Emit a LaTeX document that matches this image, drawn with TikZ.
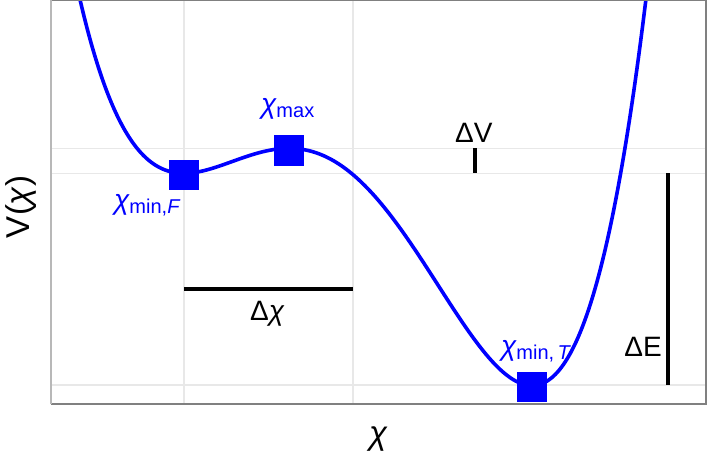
\documentclass[tikz,border=0pt]{standalone}
\usepackage{fontspec}
\setmainfont{Liberation Sans}
\newcommand{\chisym}{{\itshape χ}}
\newcommand{\subtxt}[1]{\raisebox{-4pt}{\fontsize{20}{20}\selectfont #1}}
\begin{document}
\begin{tikzpicture}[x=1pt,y=-1pt,
  gridline/.style={draw=black!9, line width=1.3pt},
  curveline/.style={draw=blue, line width=3.6pt},
  marker/.style={rectangle, fill=blue, minimum size=30pt, inner sep=0pt},
  lbl/.style={inner sep=0pt, font=\fontsize{28}{32}\selectfont},
  bluelbl/.style={lbl, text=blue},
  axtitle/.style={inner sep=0pt, font=\fontsize{33}{36}\selectfont},
  bar/.style={draw=black, line width=3.2pt}]
\useasboundingbox (0,0) rectangle (708,457);
% grid
\draw[gridline] (184,0) -- (184,404);
\draw[gridline] (353,0) -- (353,404);
\draw[gridline] (51,148.3) -- (706,148.3);
\draw[gridline] (51,173.3) -- (706,173.3);
\draw[gridline] (51,385) -- (706,385);
% curve and markers
\begin{scope}
\clip (51,0) rectangle (706,404);
\draw[curveline, line join=round] plot[domain=-1.3:4.9, samples=300, smooth]
  ({184+100*(\x)}, {173.3-43.8*((\x)*(\x))*(0.25*(\x)*(\x)-1.51*(\x)+1.827)});
\node[marker] (mF) at (184,175) {};
\node[marker] (mM) at (288.5,150.5) {};
\node[marker] (mT) at (532,387) {};
\end{scope}
% panel border
\draw[black!50, line width=1.3pt] (51,0) -- (706,0) -- (706,404) -- (51,404);
\draw[black!28, line width=1.6pt] (51,0) -- (51,404);
% labels of markers
\node[bluelbl, anchor=base west] (tM) at (261,113.5) {\chisym\subtxt{max}};
\node[bluelbl, anchor=base west] (tF) at (114,209) {\chisym\subtxt{min,\textit{F}}};
\node[bluelbl, anchor=base west] (tT) at (501,355) {\chisym\subtxt{min,\,\textit{T}}};
% measures
\coordinate (dxa) at (184,289);
\coordinate (dxb) at (353,289);
\draw[bar] (dxa) -- (dxb);
\node[lbl, anchor=base west] (tdx) at (250,320) {Δ\chisym};
\coordinate (dva) at (475,148.3);
\coordinate (dvb) at (475,173.3);
\draw[bar] (dva) -- (dvb);
\node[lbl, anchor=base west] (tdv) at (455,142.3) {ΔV};
\coordinate (dea) at (668,173.3);
\coordinate (deb) at (668,385);
\draw[bar] (dea) -- (deb);
\node[lbl, anchor=base east] (tde) at (662,356) {ΔE};
% axis titles
\node[axtitle, anchor=base] (xt) at (378,444) {\chisym};
\node[axtitle, anchor=base, rotate=90] (yt) at (29,207) {V(\chisym)};
\end{tikzpicture}
\end{document}
